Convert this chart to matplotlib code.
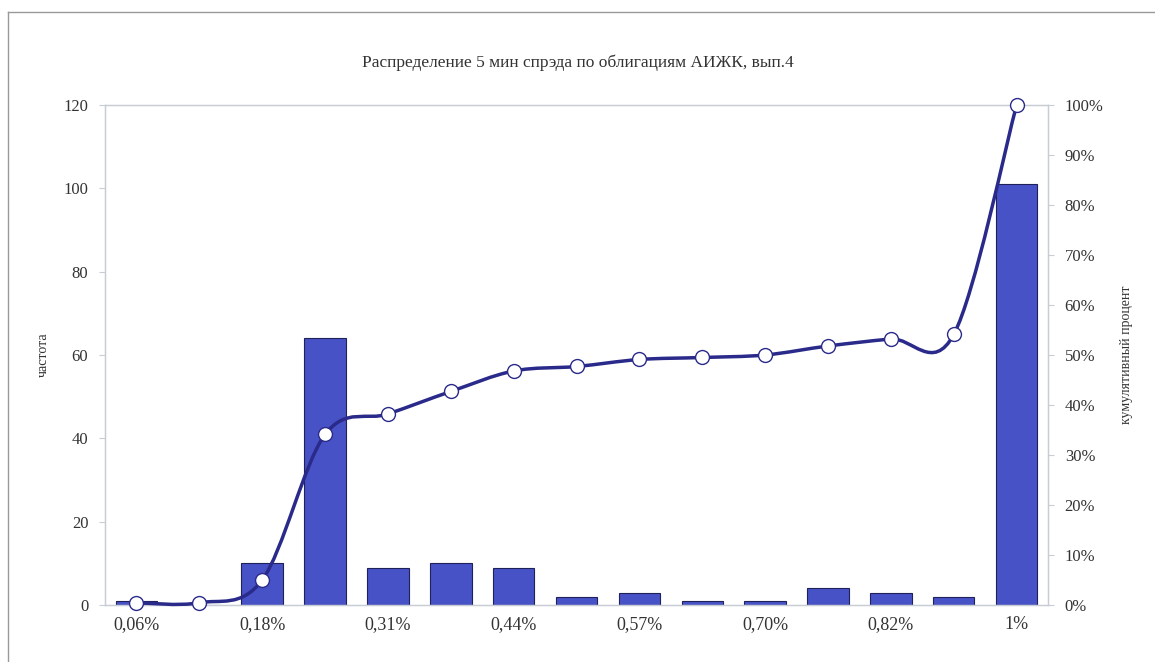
import numpy as np
import matplotlib.pyplot as plt
from matplotlib.path import Path
from matplotlib.patches import PathPatch
from matplotlib.lines import Line2D

plt.rcParams['font.family'] = ['Liberation Serif', 'DejaVu Serif']

# данные
categories = ['0,06%', '', '0,18%', '', '0,31%', '', '0,44%', '', '0,57%', '',
              '0,70%', '', '0,82%', '', '1%']
freq = [1, 0, 10, 64, 9, 10, 9, 2, 3, 1, 1, 4, 3, 2, 101]
cum_pct = [0.45, 0.45, 5.0, 34.1, 38.2, 42.7, 46.8, 47.7, 49.1, 49.5, 50.0,
           51.8, 53.2, 54.1, 100.0]

bar_color = '#4752c6'
line_color = '#2a2a8a'
axis_gray = '#c8ccd4'
text_color = '#333333'

fig = plt.figure(figsize=(11.55, 6.62), dpi=100)
# рамка диаграммы (видны верх и левый край)
fig.lines.append(Line2D([0.007, 1.0], [0.982, 0.982], transform=fig.transFigure,
                        color='#999999', linewidth=1.0))
fig.lines.append(Line2D([0.007, 0.007], [0.0, 0.982], transform=fig.transFigure,
                        color='#999999', linewidth=1.0))

ax = fig.add_axes([0.0909, 0.0861, 0.8165, 0.7553])
x = np.arange(len(freq))
ax.bar(x, freq, width=0.66, color=bar_color, edgecolor='#20205a', linewidth=0.8, zorder=2)
ax.set_xlim(-0.5, len(freq) - 0.5)
ax.set_ylim(0, 120)
ax.set_yticks(range(0, 121, 20))
ax.set_xticks(x)
ax.set_xticklabels(categories)
ax.tick_params(axis='x', length=0, pad=8, labelsize=13, colors=text_color)
ax.tick_params(axis='y', length=4, color=axis_gray, pad=8, labelsize=12, colors=text_color)
for s in ax.spines.values():
    s.set_color(axis_gray)
    s.set_linewidth(1.0)
ax.set_ylabel('частота', fontsize=10, color=text_color, labelpad=10)

ax2 = ax.twinx()
ax2.set_ylim(0, 100)
ax2.set_yticks(range(0, 101, 10))
ax2.set_yticklabels([f'{v}%' for v in range(0, 101, 10)])
ax2.tick_params(axis='y', length=4, color=axis_gray, pad=8, labelsize=12, colors=text_color)
for s in ax2.spines.values():
    s.set_color(axis_gray)
ax2.set_ylabel('кумулятивный процент', fontsize=10, color=text_color, labelpad=12)

# сглаженная линия (как в Excel) через кривые Безье
pts = np.column_stack([x, cum_pct]).astype(float)
verts = [pts[0]]
codes = [Path.MOVETO]
n = len(pts)
for i in range(n - 1):
    p0 = pts[i - 1] if i > 0 else pts[i]
    p1, p2 = pts[i], pts[i + 1]
    p3 = pts[i + 2] if i + 2 < n else pts[i + 1]
    c1 = p1 + (p2 - p0) / 6.0
    c2 = p2 - (p3 - p1) / 6.0
    verts += [c1, c2, p2]
    codes += [Path.CURVE4] * 3
ax2.add_patch(PathPatch(Path(verts, codes), fill=False, edgecolor=line_color,
                        linewidth=2.5, zorder=3, clip_on=False))
ax2.plot(x, cum_pct, linestyle='none', marker='o', markersize=10,
         markerfacecolor='white', markeredgecolor=line_color, markeredgewidth=1.0,
         zorder=4, clip_on=False)

fig.text(0.5, 0.905, 'Распределение 5 мин спрэда по облигациям АИЖК, вып.4',
         ha='center', va='center', fontsize=12.5, color=text_color)

fig.savefig('out.png', dpi=100)
